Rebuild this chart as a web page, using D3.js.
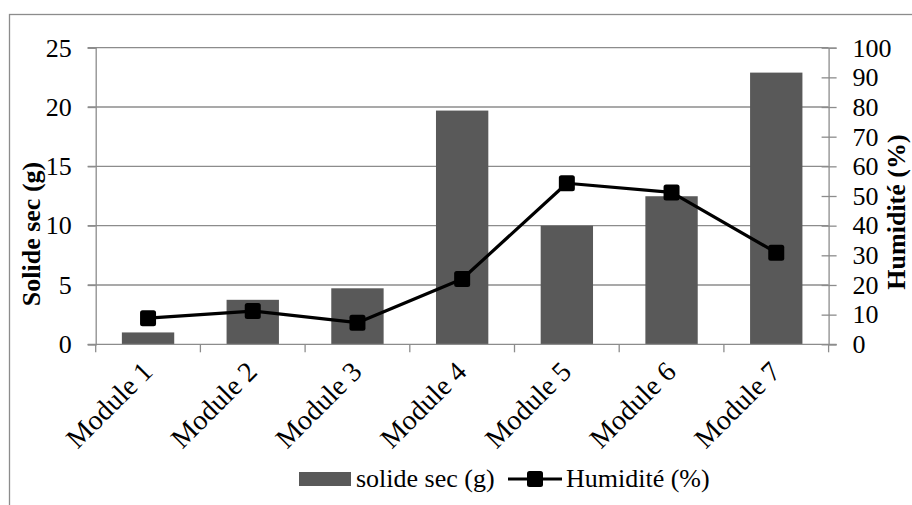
<!DOCTYPE html>
<html>
<head>
<meta charset="utf-8">
<script src="https://cdn.jsdelivr.net/npm/d3@7"></script>
<style>
  html, body { margin: 0; padding: 0; background: #fff; }
  svg { display: block; }
  text { font-family: "Liberation Serif", "Times New Roman", serif; fill: #000; }
</style>
</head>
<body>
<svg id="chart" width="912" height="505"></svg>
<script>
const categories = ["Module 1", "Module 2", "Module 3", "Module 4", "Module 5", "Module 6", "Module 7"];
const solideSec = [1.0, 3.75, 4.72, 19.7, 10.0, 12.48, 22.9];
const humidite = [8.8, 11.2, 7.3, 22.0, 54.3, 51.2, 30.9];
const leftTicks = [0, 5, 10, 15, 20, 25];
const rightTicks = [0, 10, 20, 30, 40, 50, 60, 70, 80, 90, 100];
const seriesNames = ["solide sec (g)", "Humidité (%)"];
const axisTitles = ["Solide sec (g)", "Humidité (%)"];

const svg = d3.select("#chart");
const gridColor = "#8c8c8c";
const barColor = "#595959";

const pLeft = 95.7, pRight = 828.6, pTop = 47.7, pBottom = 344.3;

// outer frame
svg.append("rect").attr("x", 9.5).attr("y", 14.5).attr("width", 920).attr("height", 520)
  .attr("fill", "none").attr("stroke", gridColor).attr("stroke-width", 1.3);

const x = d3.scaleBand().domain(categories).range([pLeft, pRight]).paddingInner(0.5).paddingOuter(0.25);
const yL = d3.scaleLinear().domain([0, 25]).range([pBottom, pTop]);
const yR = d3.scaleLinear().domain([0, 100]).range([pBottom, pTop]);

// gridlines
svg.append("g").selectAll("line").data(leftTicks.filter(d => d > 0)).join("line")
  .attr("x1", pLeft - 8).attr("x2", pRight).attr("y1", d => yL(d)).attr("y2", d => yL(d))
  .attr("stroke", gridColor).attr("stroke-width", 1.3);

// left axis
const gL = svg.append("g").attr("transform", `translate(${pLeft},0)`)
  .call(d3.axisLeft(yL).tickValues(leftTicks).tickSize(8).tickPadding(16));
gL.select(".domain").attr("stroke", gridColor).attr("stroke-width", 1.3);
gL.selectAll(".tick line").attr("stroke", gridColor).attr("stroke-width", 1.3);
gL.selectAll(".tick text").attr("font-size", 26).attr("font-family", "Liberation Serif").attr("fill", "#000");

// right axis
const gR = svg.append("g").attr("transform", `translate(${pRight},0)`)
  .call(d3.axisRight(yR).tickValues(rightTicks).tickSize(8).tickPadding(16));
gR.select(".domain").attr("stroke", gridColor).attr("stroke-width", 1.3);
gR.selectAll(".tick line").attr("x1", -7).attr("stroke", gridColor).attr("stroke-width", 1.3);
gR.selectAll(".tick text").attr("font-size", 26).attr("font-family", "Liberation Serif").attr("fill", "#000");

// bars
svg.append("g").selectAll("rect").data(categories).join("rect")
  .attr("x", d => x(d)).attr("width", x.bandwidth())
  .attr("y", (d, i) => yL(solideSec[i])).attr("height", (d, i) => pBottom - yL(solideSec[i]))
  .attr("fill", barColor);

// x axis baseline & category ticks
svg.append("line").attr("x1", pLeft - 8).attr("x2", pRight + 8).attr("y1", pBottom).attr("y2", pBottom)
  .attr("stroke", gridColor).attr("stroke-width", 1.3);
const bounds = categories.map(c => x(c) - x.step() * 0.25).concat([pRight]);
svg.append("g").selectAll("line").data(bounds).join("line")
  .attr("x1", d => d).attr("x2", d => d).attr("y1", pBottom).attr("y2", pBottom + 8)
  .attr("stroke", gridColor).attr("stroke-width", 1.3);

// category labels
svg.append("g").selectAll("text").data(categories).join("text")
  .attr("transform", d => `translate(${x(d) + x.bandwidth() / 2 + 6},${pBottom + 29}) rotate(-45)`)
  .attr("text-anchor", "end").attr("font-size", 28).text(d => d);

// line series
const cx = (d) => x(d) + x.bandwidth() / 2;
const line = d3.line().x((d, i) => cx(categories[i])).y(d => yR(d));
svg.append("path").datum(humidite).attr("d", line)
  .attr("fill", "none").attr("stroke", "#000").attr("stroke-width", 3.2).attr("stroke-linejoin", "round");
svg.append("g").selectAll("rect").data(humidite).join("rect")
  .attr("x", (d, i) => cx(categories[i]) - 8).attr("y", d => yR(d) - 8)
  .attr("width", 16).attr("height", 16).attr("rx", 2.5)
  .attr("fill", "#000");

// axis titles
svg.append("text").attr("transform", "translate(40,234) rotate(-90)")
  .attr("text-anchor", "middle").attr("font-size", 26).attr("font-weight", "bold").text(axisTitles[0]);
svg.append("text").attr("transform", "translate(905,212) rotate(-90)")
  .attr("text-anchor", "middle").attr("font-size", 26).attr("font-weight", "bold").text(axisTitles[1]);

// legend
const lg = svg.append("g");
lg.append("rect").attr("x", 299).attr("y", 472).attr("width", 52).attr("height", 14).attr("fill", barColor);
lg.append("text").attr("x", 356).attr("y", 487).attr("font-size", 26).text(seriesNames[0]);
lg.append("line").attr("x1", 508).attr("x2", 562).attr("y1", 479).attr("y2", 479)
  .attr("stroke", "#000").attr("stroke-width", 3.2);
lg.append("rect").attr("x", 527).attr("y", 471).attr("width", 16).attr("height", 16).attr("rx", 2.5).attr("fill", "#000");
lg.append("text").attr("x", 566).attr("y", 487).attr("font-size", 26).text(seriesNames[1]);
</script>
</body>
</html>
